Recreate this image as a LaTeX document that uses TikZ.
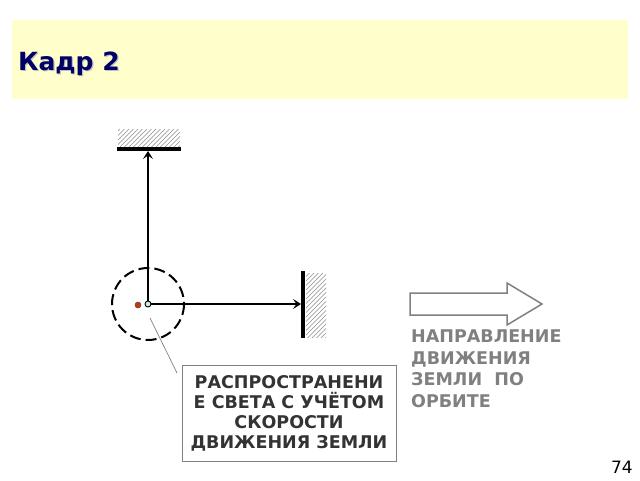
\documentclass[tikz,border=0pt]{standalone}
\usepackage{fontspec}
\setmainfont{DejaVu Sans}
\usetikzlibrary{arrows.meta}
\definecolor{titlebg}{HTML}{FFFFCC}
\definecolor{navy}{HTML}{000066}
\definecolor{boxtext}{HTML}{333333}
\definecolor{greytext}{HTML}{808080}
\definecolor{reddot}{HTML}{CC3300}
\definecolor{bluedot}{HTML}{CCEEEE}
\tikzset{
  mirror/.style={line width=4pt, line cap=butt},
  hatch/.style={gray!90, line width=0.6pt},
  ray/.style={line width=1.8pt, -{Stealth[length=8pt,width=10pt,inset=3.5pt]}},
  orbit/.style={line width=2pt, dash pattern=on 11pt off 5pt},
  leader/.style={gray, line width=0.7pt},
  notebox/.style={draw=gray, line width=1pt, minimum width=214pt, minimum height=96pt,
    align=center, text=boxtext, font=\bfseries\fontsize{17.5}{20}\selectfont},
  greylabel/.style={align=left, text=greytext, font=\bfseries\fontsize{17.5}{21.5}\selectfont},
}
\begin{document}
\begin{tikzpicture}[x=1pt,y=-1pt]
\useasboundingbox (0,0) rectangle (640,480);
% title band
\fill[titlebg] (12,20) rectangle (628,99);
\node[anchor=base west, inner sep=0pt, text=gray!50, font=\bfseries\fontsize{25}{28}\selectfont] at (19.2,71.2) {Кадр 2};
\node[anchor=base west, inner sep=0pt, text=navy, font=\bfseries\fontsize{25}{28}\selectfont] (title) at (18,70) {Кадр 2};
% top mirror hatching
\begin{scope}
  \clip (118,129) rectangle (180,147);
  \foreach \a in {90,94.5,...,190} \draw[hatch] (\a,150) -- ++(24,-24);
\end{scope}
\draw[mirror] (117,149) -- (181,149);
% right mirror hatching
\begin{scope}
  \clip (306,273) rectangle (326,337);
  \foreach \a in {220,224.5,...,340} \draw[hatch] (\a,340) -- ++(80,-80);
\end{scope}
\draw[mirror] (303,271) -- (303,338);
% orbit circle
\draw[orbit] (148,304) circle (36);
% points
\coordinate (topm) at (148,151);
\coordinate (rightm) at (301,304);
\node[circle, inner sep=0pt, minimum size=6pt, fill=bluedot, draw=black, line width=0.9pt] (o) at (148,304) {};
\node[circle, inner sep=0pt, minimum size=6pt, fill=reddot, draw=black!70, line width=0.5pt] (r) at (138,305) {};
\draw[ray] (o) -- (topm);
\draw[ray] (o) -- (rightm);
% note box
\node[notebox] (box) at (289,413) {РАСПРОСТРАНЕНИ\\Е СВЕТА С УЧЁТОМ\\СКОРОСТИ\\ДВИЖЕНИЯ ЗЕМЛИ};
\coordinate (lead) at (177,373);
\coordinate (leadstart) at (150,318);
\draw[leader] (leadstart) -- (lead);
% hollow arrow
\draw[greytext, line width=1.5pt, line join=miter]
  (410,293) -- (507,293) -- (507,283) -- (542,304) -- (507,325) -- (507,315) -- (410,315) -- cycle;
\node[greylabel, anchor=north west, inner sep=0pt] (dir) at (411,330) {НАПРАВЛЕНИЕ\\ДВИЖЕНИЯ\\ЗЕМЛИ~~ПО\\ОРБИТЕ};
% page number
\node[anchor=base east, inner sep=0pt, font=\fontsize{17}{20}\selectfont] (num) at (633,473) {74};
\end{tikzpicture}
\end{document}
